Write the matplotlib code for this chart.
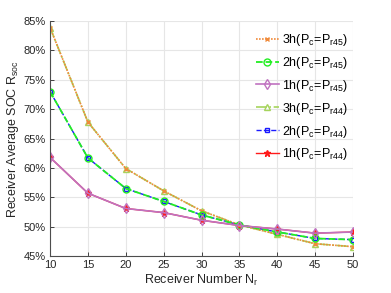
import matplotlib
matplotlib.use('Agg')

import matplotlib.pyplot as plt
from matplotlib.ticker import FuncFormatter

plt.rcParams['font.family'] = ['Liberation Sans', 'DejaVu Sans']
plt.rcParams['mathtext.fontset'] = 'custom'
plt.rcParams['mathtext.rm'] = 'Liberation Sans'
plt.rcParams['mathtext.it'] = 'Liberation Sans'

# receiver number
n_r = [10, 15, 20, 25, 30, 35, 40, 45, 50]

# average SOC (%) for each harvesting time, P45 and P44 runs give the same values
soc_3h = [83.9, 67.8, 59.9, 56.1, 52.7, 50.3, 48.7, 47.1, 46.6]
soc_2h = [73.0, 61.7, 56.5, 54.3, 52.0, 50.3, 49.1, 48.0, 47.8]
soc_1h = [61.8, 55.7, 53.1, 52.4, 51.1, 50.2, 49.6, 48.9, 49.1]

fig = plt.figure(figsize=(3.91, 2.93), dpi=100)
ax = fig.add_axes([0.128, 0.126, 0.775, 0.802])

# P44 runs first so the P45 runs lie on top
h44_3, = ax.plot(n_r, soc_3h, '-.', color='#a6d45c', marker='^', ms=5,
                 mfc='none', lw=1.2, label=r'$\mathregular{3h(P_c\!=\!P_{r44})}$')
h44_2, = ax.plot(n_r, soc_2h, '--', color='#1a1aff', marker='s', ms=3.5,
                 mfc='none', lw=1, label=r'$\mathregular{2h(P_c\!=\!P_{r44})}$')
h44_1, = ax.plot(n_r, soc_1h, '-', color='#ff1a1a', marker='*', ms=5,
                 lw=1, label=r'$\mathregular{1h(P_c\!=\!P_{r44})}$')

h45_3, = ax.plot(n_r, soc_3h, ':', color='#f08a3a', marker='x', ms=3.5,
                 lw=1.2, dashes=(1, 0.8), label=r'$\mathregular{3h(P_c\!=\!P_{r45})}$')
h45_2, = ax.plot(n_r, soc_2h, '--', color='#22ee22', marker='o', ms=5,
                 mfc='none', lw=1.3, label=r'$\mathregular{2h(P_c\!=\!P_{r45})}$')
h45_1, = ax.plot(n_r, soc_1h, '-', color='#c072c0', marker='d', ms=5,
                 mfc='none', lw=1.2, label=r'$\mathregular{1h(P_c\!=\!P_{r45})}$')

ax.set_xlim(10, 50)
ax.set_ylim(45, 85)
ax.set_xticks(range(10, 51, 5))
ax.set_yticks(range(45, 86, 5))
ax.yaxis.set_major_formatter(FuncFormatter(lambda v, p: f'{v:.0f}%'))

ax.grid(True, color='#e6e6e6', lw=0.8)
ax.set_axisbelow(True)
for s in ['top', 'right']:
    ax.spines[s].set_visible(False)
for s in ['left', 'bottom']:
    ax.spines[s].set_color('#4d4d4d')
ax.tick_params(direction='in', length=3, labelsize=8, colors='#262626',
               width=0.6, pad=3)

ax.set_xlabel(r'Receiver Number N$_r$', fontsize=9, color='#262626', labelpad=2)
ax.set_ylabel(r'Receiver Average SOC R$_{soc}$', fontsize=9, color='#262626', labelpad=2)

ax.legend(handles=[h45_3, h45_2, h45_1, h44_3, h44_2, h44_1],
          loc='upper right', bbox_to_anchor=(1.01, 0.985), frameon=False,
          fontsize=9, handlelength=1.8, handletextpad=0.3, labelspacing=0.55,
          borderaxespad=0.2)

fig.savefig('out.png', dpi=100)
